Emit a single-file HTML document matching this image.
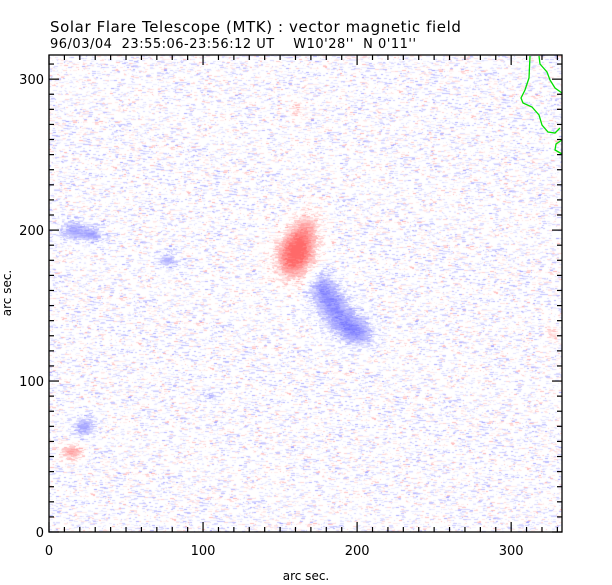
<!DOCTYPE html>
<html><head><meta charset="utf-8"><style>
body{margin:0;background:#fff;width:612px;height:585px;overflow:hidden;font-family:"DejaVu Sans","Liberation Sans",sans-serif}
</style></head><body>
<svg width="612" height="585" xmlns="http://www.w3.org/2000/svg" style="position:absolute;left:0;top:0">
<foreignObject x="49" y="55" width="513" height="477"><canvas xmlns="http://www.w3.org/1999/xhtml" id="cv" width="513" height="477"></canvas></foreignObject>
<g id="axes" font-size="13" fill="#000"></g>
<text x="50" y="32" font-size="15" letter-spacing="0.6">Solar Flare Telescope (MTK) : vector magnetic field</text>
<text x="50" y="48" font-size="13" letter-spacing="0.5" xml:space="preserve">96/03/04  23:55:06-23:56:12 UT    W10'28''  N 0'11''</text>
<text x="306" y="580" font-size="12" text-anchor="middle">arc sec.</text>
<text transform="translate(11,293) rotate(-90)" font-size="12" text-anchor="middle">arc sec.</text>
<g fill="none" stroke="#00e000" stroke-width="1.3">
<polyline points="530,56 529,78 525,90 521,98 523,103 532,107 539,115 542,125 548,132 555,133 560,128"/>
<polyline points="539,56 540,64 547,72 550,80 555,88 562,93"/>
<polyline points="562,140 556,144 555,150 562,154"/>
</g>
<rect x="49" y="55" width="513" height="477" fill="none" stroke="#000" stroke-width="1.3"/>
</svg>
<script>
const xTicks=[0,100,200,300];
const yTicks=[0,100,200,300];
const xMax=333, yMax=316;
// blobs: arcsec x, y, sigma x, sigma y, polarity(+1 red,-1 blue), strength
const blobX=[157,163,168,176,184,193,200,15,28,76,22,14,160,105,325];
const blobY=[180,192,205,163,150,138,130,200,197,180,70,53,280,90,133];
const blobSX=[9,8,6,7,8,10,8,7,5,5,5,5,3,4,3];
const blobSY=[11,10,7,8,8,7,6,5,4,4,5,4,5,3,4];
const blobPol=[1,1,1,-1,-1,-1,-1,-1,-1,-1,-1,1,1,-1,1];
const blobAmp=[1.0,0.8,0.45,0.8,0.75,0.7,0.6,0.8,0.7,0.7,0.85,0.85,0.5,0.5,0.5];
const X0=49,X1=562,Y0=532,YT=55;
const sx=v=>X0+v*(X1-X0)/xMax, sy=v=>Y0-v*(Y0-YT)/yMax;
const ax=document.getElementById('axes');const NS='http://www.w3.org/2000/svg';
function ln(x1,y1,x2,y2,n){const l=document.createElementNS(NS,'line');l.setAttribute('x1',x1);l.setAttribute('y1',y1);l.setAttribute('x2',x2);l.setAttribute('y2',y2);l.setAttribute('stroke','#000');l.setAttribute('stroke-width','1.2');

ax.appendChild(l);}
for(let v=0;v<=xMax;v+=10){const M=v%100==0,L=M?10:5,x=sx(v);ln(x,Y0,x,Y0-L,'x-tick');ln(x,YT,x,YT+L,'x-tick-top');}
for(let v=0;v<=yMax;v+=10){const M=v%100==0,L=M?10:5,y=sy(v);ln(X0,y,X0+L,y,'y-tick');ln(X1,y,X1-L,y,'y-tick-right');}
xTicks.forEach(v=>{const t=document.createElementNS(NS,'text');t.setAttribute('x',sx(v));t.setAttribute('y',555);t.setAttribute('text-anchor','middle');t.textContent=v;

ax.appendChild(t);});
yTicks.forEach(v=>{const t=document.createElementNS(NS,'text');t.setAttribute('x',44);t.setAttribute('y',sy(v)+5);t.setAttribute('text-anchor','end');t.textContent=v;

ax.appendChild(t);});
// speckle rendering
const c=document.getElementById('cv').getContext('2d');
let s=12345;const rnd=()=>{s=(s*1103515245+12345)&0x7fffffff;return s/0x7fffffff;};
const W=513,H=477,img=c.createImageData(W,H),d=img.data;
for(let i=0;i<d.length;i++)d[i]=255;
for(let py=0;py<H;py++){let px=0;while(px<W){
 const len=1+Math.floor(rnd()*4);
 const a=px*xMax/W, b=(H-py)*yMax/H;
 let f=0;for(let i=0;i<blobX.length;i++){const dx=(a-blobX[i])/blobSX[i],dy=(b-blobY[i])/blobSY[i];f+=blobPol[i]*blobAmp[i]*Math.exp(-(dx*dx+dy*dy)/2);}
 const g1=(rnd()+rnd()+rnd()-1.5)*0.6 - 0.05;
 let v=f+g1*(1-Math.min(0.7,Math.abs(f)));
 let r=255,g=255,bl=255;
 if(Math.abs(v)>0.33){const k=Math.min(1,(Math.abs(v)-0.25)*1.0);
  if(v>0){g=255-k*150;bl=255-k*150;}else{r=255-k*150;g=255-k*150;}}
 for(let q=0;q<len&&px+q<W;q++){const o=(py*W+px+q)*4;d[o]=r;d[o+1]=g;d[o+2]=bl;}
 px+=len;}}
c.putImageData(img,0,0);
</script>
</body></html>
